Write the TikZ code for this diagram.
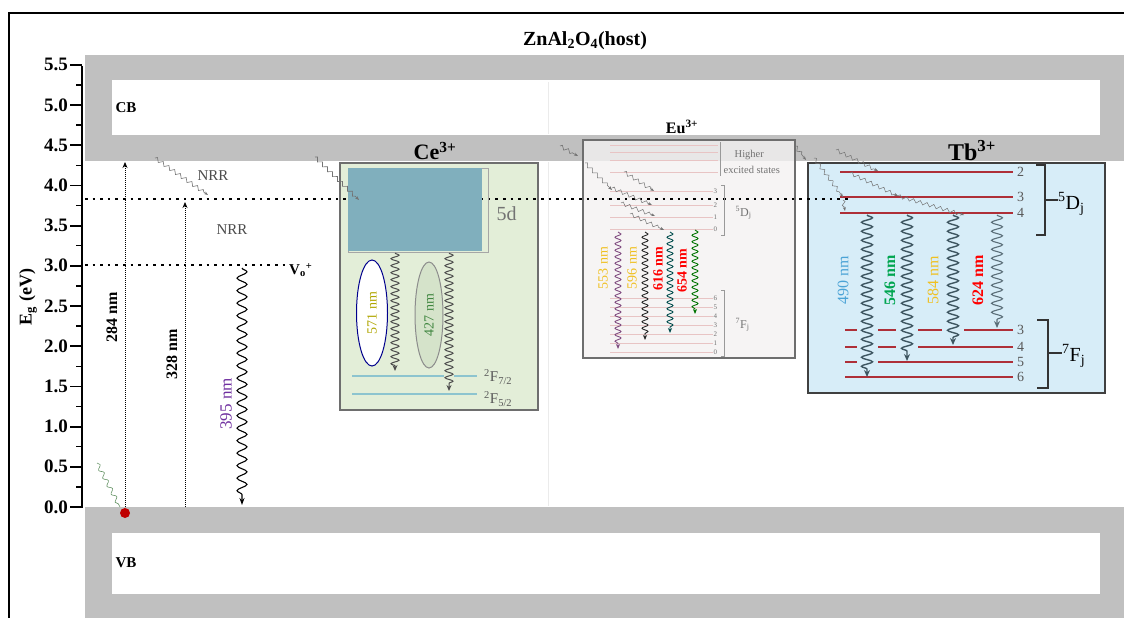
\documentclass[tikz,border=0pt]{standalone}
\usepackage{fontspec}
\setmainfont{Liberation Serif}
\usetikzlibrary{decorations.pathmorphing,arrows.meta}
\definecolor{bandgray}{HTML}{C0C0C0}
\definecolor{cegreen}{HTML}{E3EED8}
\definecolor{cegreen2}{HTML}{D5E3CA}
\definecolor{teal5d}{HTML}{80AFBD}
\definecolor{tbblue}{HTML}{D7EDF8}
\definecolor{eubg}{HTML}{F4F2F2}
\definecolor{tbred}{HTML}{AE2F38}
\definecolor{wavegray}{HTML}{3E5661}
\definecolor{cefline}{HTML}{8DC4CF}
\definecolor{eupink}{HTML}{E8C4C4}
\definecolor{purp}{HTML}{7030A0}
\definecolor{yel}{HTML}{F0C020}
\definecolor{nmblue}{HTML}{4BA3D6}
\definecolor{nmgreen}{HTML}{00A550}
\definecolor{boxgray}{HTML}{6E6E6E}
\tikzset{
  fs/.style={font=\fontsize{#1}{#1}\selectfont},
  bfs/.style={font=\bfseries\fontsize{#1}{#1}\selectfont},
  ticklab/.style={bfs=19, anchor=east, inner sep=1pt},
  dotline/.style={line width=2.4pt, dash pattern=on 2.6pt off 5pt},
  excit/.style={line width=0.8pt, dash pattern=on 1pt off 1pt, -{Stealth[length=6pt,width=5pt]}},
  bigwave/.style={decorate, decoration={snake, amplitude=5pt, segment length=12.5pt, post length=6pt}, line width=1.1pt, -{Stealth[length=7pt,width=5pt]}},
  cewave/.style={decorate, decoration={snake, amplitude=4pt, segment length=7pt, post length=5pt}, line width=1pt, draw=black!70, -{Stealth[length=6pt,width=5pt]}},
  tbwave/.style={decorate, decoration={snake, amplitude=5.5pt, segment length=9pt, post length=6pt}, line width=1.4pt, draw=wavegray, -{Stealth[length=7pt,width=6pt]}},
  euwave/.style={decorate, decoration={snake, amplitude=3pt, segment length=6.5pt, post length=4pt}, line width=0.9pt, -{Stealth[length=5pt,width=4pt]}},
  nrr/.style={decorate, decoration={zigzag, amplitude=1.8pt, segment length=7pt, post length=4pt}, line width=0.6pt, draw=black!55, -{Stealth[length=4pt,width=3pt]}},
  tblev/.style={line width=2.6pt, draw=tbred},
  eulev/.style={line width=0.6pt, draw=eupink},
  levlab/.style={fs=14, text=black!65, anchor=west, inner sep=1pt},
  eulab/.style={fs=10.5, text=black!55, anchor=west, inner sep=0.5pt},
  nmlab/.style={rotate=90, inner sep=0pt},
}
\begin{document}
\begin{tikzpicture}[x=1pt,y=-1pt]
\useasboundingbox (0,0) rectangle (1124,618);
\fill[white] (0,0) rectangle (1124,618);
% frame
\draw[line width=2pt] (9,618) -- (9,13) -- (1124,13);
% bands
\fill[bandgray] (85,55) rectangle (1124,161);
\fill[white] (112,80) rectangle (1100,135);
\fill[bandgray] (85,507) rectangle (1124,618);
\fill[white] (112,533) rectangle (1100,594);
\draw[black!8, line width=0.8pt] (548,82) -- (548,134);
\draw[black!8, line width=0.8pt] (548,162) -- (548,506);
\node[bfs=15, anchor=west] (cb) at (112,108) {CB};
\node[bfs=15, anchor=west] (vb) at (112,563) {VB};
\node[bfs=20] (title) at (585,41) {ZnAl\textsubscript{2}O\textsubscript{4}(host)};
% axis
\draw[line width=1.8pt] (82,66) -- (82,508);
\foreach \j in {1,3,...,21} { \draw[line width=1.4pt] (76,507-\j*20.1) -- (82,507-\j*20.1); }
\foreach \v [count=\i from 0] in {0.0,0.5,1.0,1.5,2.0,2.5,3.0,3.5,4.0,4.5,5.0,5.5} {
  \draw[line width=1.8pt] (70,507-\i*40.2) -- (82,507-\i*40.2);
  \node[ticklab] at (69,507-\i*40.2) {\v};
}
\node[rotate=90, bfs=18] (ylab) at (28,297) {E\textsubscript{g} (eV)};

% ---- Ce box
\draw[boxgray, line width=1.5pt, fill=cegreen] (340,163) rectangle (538,410);
\node[bfs=22] (ce) at (435,151) {Ce\textsuperscript{3+}};
% ---- Eu box
\draw[boxgray, line width=1.5pt, fill=eubg, fill opacity=0.78] (583,140) rectangle (795,358);
\node[bfs=16] (eu) at (682,127) {Eu\textsuperscript{3+}};
% ---- Tb box
\draw[black!75, line width=1.5pt, fill=tbblue] (808,163) rectangle (1105,393);
\node[bfs=24] (tb) at (972,151) {Tb\textsuperscript{3+}};

% ---- dotted levels
\draw[dotline] (85,199) -- (850,199);
\draw[dotline] (85,265) -- (287,265);
\node[bfs=15, anchor=west, inner sep=0pt] (vo) at (289,270) {V\textsubscript{o}\textsuperscript{+}};

% ---- Ce details
\draw[black!35, line width=0.6pt] (348,168) rectangle (488,252);
\fill[teal5d] (348,168) rectangle (482,251);
\node[fs=20, text=black!55, anchor=west] (d5) at (493,214) {5d};
\draw[cefline, line width=1.8pt] (352,376) -- (477,376);
\draw[cefline, line width=1.8pt] (352,394) -- (477,394);
\node[levlab, fs=15] (f72) at (483,377) {\textsuperscript{2}F\textsubscript{7/2}};
\node[levlab, fs=15] (f52) at (483,399) {\textsuperscript{2}F\textsubscript{5/2}};
\draw[blue!55!black, line width=1pt, fill=white] (372,313) ellipse (15.5 and 53);
\node[nmlab, fs=14, text=olive!70!yellow] (n571) at (372,313) {571 nm};
\draw[black!45, line width=1pt, fill=cegreen2] (429,315) ellipse (14 and 53);
\node[nmlab, fs=14, text=black!45!green!50!gray] (n427) at (429,315) {427 nm};
\coordinate (ce1a) at (395,253); \coordinate (ce1b) at (395,371);
\coordinate (ce2a) at (449,253); \coordinate (ce2b) at (449,391);
\fill[cegreen] (444,372) rectangle (454,380);
\draw[cewave] (ce1a) -- (ce1b);
\draw[cewave] (ce2a) -- (ce2b);

% ---- left excitations
\coordinate (e284a) at (125,507); \coordinate (e284b) at (125,162);
\coordinate (e328a) at (185,507); \coordinate (e328b) at (185,202);
\draw[excit] (e284a) -- (e284b);
\draw[excit] (e328a) -- (e328b);
\node[nmlab, bfs=16] (n284) at (112,317) {284 nm};
\node[nmlab, bfs=16] (n328) at (172,354) {328 nm};
\coordinate (w395a) at (242,268); \coordinate (w395b) at (242,505);
\draw[bigwave] (w395a) -- (w395b);
\node[nmlab, fs=17, text=purp] (n395) at (226,404) {395 nm};
\fill[red!75!black] (125,513) circle (5);
\draw[decorate, decoration={snake, amplitude=2pt, segment length=9pt}, green!30!black!60, line width=0.6pt] (97,463) -- (120,507);

% NRR
\coordinate (nr1a) at (155,158); \coordinate (nr1b) at (208,195);
\draw[nrr] (nr1a) -- (nr1b);
\node[fs=15, text=black!70] (nrr1) at (213,176) {NRR};
\node[fs=15, text=black!70] (nrr2) at (232,230) {NRR};
\coordinate (nr2a) at (315,157); \coordinate (nr2b) at (359,200);
\draw[nrr] (nr2a) -- (nr2b);
\coordinate (nr3a) at (560,146); \coordinate (nr3b) at (578,156);
\draw[nrr] (nr3a) -- (nr3b);
\coordinate (nr4a) at (795,146); \coordinate (nr4b) at (806,160);
\draw[nrr] (nr4a) -- (nr4b);

% ---- Eu details
\foreach \y in {145,152,160,172} { \draw[eulev] (610,\y) -- (718,\y); }
\draw[black!40, line width=0.5pt] (720,142) -- (720,176);
\node[eulab] (hi1) at (734,155) {Higher};
\node[eulab] (hi2) at (723,170) {excited states};
\foreach \y/\j in {191/3,205/2,217/1,229/0} {
  \draw[eulev] (610,\y) -- (713,\y);
  \node[eulab, fs=7] at (713,\y) {\j};
}
\draw[black!40, line width=0.5pt] (721,185) -- (724,185) -- (724,235) -- (721,235);
\node[eulab, fs=12] (eud) at (735,213) {\textsuperscript{5}D\textsubscript{j}};
\foreach \y/\j in {298/6,307/5,316/4,325/3,334/2,343/1,352/0} {
  \draw[eulev] (610,\y) -- (713,\y);
  \node[eulab, fs=7] at (713,\y) {\j};
}
\draw[black!40, line width=0.5pt] (721,290) -- (724,290) -- (724,356) -- (721,356);
\node[eulab, fs=12] (euf) at (735,325) {\textsuperscript{7}F\textsubscript{j}};
\foreach \a/\b in {{(585,163)}/{(612,190)},{(624,172)}/{(654,191)},{(612,188)}/{(652,205)},{(621,203)}/{(655,216)},{(630,214)}/{(664,230)}} {
  \draw[nrr, line width=0.5pt] \a -- \b;
}
\coordinate (eu1a) at (618,232); \coordinate (eu1b) at (618,349);
\coordinate (eu2a) at (645,232); \coordinate (eu2b) at (645,340);
\coordinate (eu3a) at (670,232); \coordinate (eu3b) at (670,333);
\coordinate (eu4a) at (695,230); \coordinate (eu4b) at (695,314);
\draw[euwave, draw=violet!40!gray] (eu1a) -- (eu1b);
\draw[euwave, draw=black!85] (eu2a) -- (eu2b);
\draw[euwave, draw=teal!60!black] (eu3a) -- (eu3b);
\draw[euwave, draw=green!45!black] (eu4a) -- (eu4b);
\node[nmlab, fs=14, text=yel] (n553) at (603,268) {553 nm};
\node[nmlab, fs=14, text=yel] (n596) at (632,268) {596 nm};
\node[nmlab, bfs=14, text=red] (n616) at (658,269) {616 nm};
\node[nmlab, bfs=14, text=red] (n654) at (682,271) {654 nm};

% ---- Tb details
\foreach \y/\j in {172/2,197/3,213/4} {
  \draw[tblev] (840,\y) -- (1013,\y);
  \node[levlab] at (1016,\y) {\j};
}
\foreach \y/\j in {330/3,347/4,362/5,377/6} {
  \draw[tblev] (845,\y) -- (1013,\y);
  \node[levlab] at (1016,\y) {\j};
}
\draw[black!80, line width=1.6pt] (1036,165) -- (1045,165) -- (1045,235) -- (1036,235);
\draw[black!80, line width=1.6pt] (1045,200) -- (1058,200);
\node[fs=20, anchor=west, inner sep=0pt] (tbd) at (1058,204) {\textsuperscript{5}D\textsubscript{j}};
\draw[black!80, line width=1.6pt] (1037,320) -- (1048,320) -- (1048,388) -- (1037,388);
\draw[black!80, line width=1.6pt] (1048,353) -- (1062,353);
\node[fs=20, anchor=west, inner sep=0pt] (tbf) at (1062,356) {\textsuperscript{7}F\textsubscript{j}};
% gaps in 7F lines
\fill[tbblue] (857,322) rectangle (878,370);
\fill[tbblue] (896,322) rectangle (918,355);
\fill[tbblue] (942,322) rectangle (964,340);
% squiggles
\foreach \a/\b in {{(814,158)}/{(843,197)},{(843,200)}/{(845,211)},{(836,150)}/{(878,171)},{(850,173)}/{(898,196)},{(898,196)}/{(964,215)}} {
  \draw[nrr, line width=0.5pt] \a -- \b;
}
\coordinate (tb1a) at (867,215); \coordinate (tb1b) at (867,377);
\coordinate (tb2a) at (907,215); \coordinate (tb2b) at (907,361);
\coordinate (tb3a) at (953,215); \coordinate (tb3b) at (953,345);
\coordinate (tb4a) at (997,215); \coordinate (tb4b) at (997,328);
\draw[tbwave] (tb1a) -- (tb1b);
\draw[tbwave] (tb2a) -- (tb2b);
\draw[tbwave] (tb3a) -- (tb3b);
\draw[tbwave, line width=1.1pt, draw=wavegray!85] (tb4a) -- (tb4b);
\node[nmlab, fs=16, text=nmblue] (n490) at (843,280) {490 nm};
\node[nmlab, bfs=16, text=nmgreen] (n546) at (890,280) {546 nm};
\node[nmlab, fs=16, text=yel] (n584) at (933,280) {584 nm};
\node[nmlab, bfs=16, text=red] (n624) at (978,280) {624 nm};
\end{tikzpicture}
\end{document}
